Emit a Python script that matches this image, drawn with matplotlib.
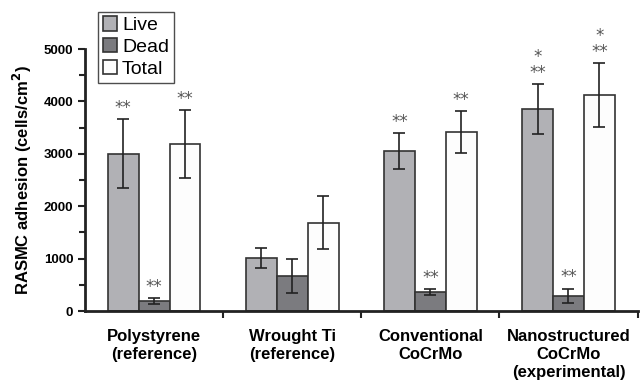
import numpy as np
import matplotlib
matplotlib.use('Agg')
import matplotlib.pyplot as plt
from matplotlib.ticker import MultipleLocator

plt.rcParams['font.family'] = ['Liberation Sans', 'DejaVu Sans']

# 표면별 RASMC 부착 세포 수
groups = ['Polystyrene\n(reference)', 'Wrought Ti\n(reference)',
          'Conventional\nCoCrMo', 'Nanostructured\nCoCrMo\n(experimental)']
live = [3000, 1010, 3050, 3850]
live_err = [660, 190, 340, 480]
dead = [190, 670, 370, 290]
dead_err = [60, 330, 55, 140]
total = [3180, 1690, 3420, 4130]
total_err = [650, 510, 400, 610]
# 유의성 표시
live_sig = ['**', '', '**', '*\n**']
dead_sig = ['**', '', '**', '**']
total_sig = ['**', '', '**', '*\n**']

fig = plt.figure(figsize=(6.41, 3.86), dpi=100)
ax = fig.add_axes([0.1326, 0.194, 0.862, 0.679])

x = np.arange(len(groups))
w = 0.224
edge = '#333333'
series = [(live, live_err, live_sig, '#b1b1b5', 'Live', -w),
          (dead, dead_err, dead_sig, '#7b7b7f', 'Dead', 0),
          (total, total_err, total_sig, '#fdfdfd', 'Total', w)]

for vals, errs, sigs, col, lab, off in series:
    ax.bar(x + off, vals, w, color=col, edgecolor=edge, linewidth=1.2, label=lab,
           yerr=errs, error_kw=dict(ecolor='#222222', elinewidth=1.2, capsize=4, capthick=1.2))
    for xi, v, e, s in zip(x, vals, errs, sigs):
        if s:
            ax.text(xi + off, v + e + 40, s, ha='center', va='bottom', fontsize=12,
                    color='#555555', linespacing=0.85, family='DejaVu Sans')

ax.set_xlim(-0.5, 3.5)
ax.set_ylim(0, 5000)
ax.yaxis.set_major_locator(MultipleLocator(1000))
ax.yaxis.set_minor_locator(MultipleLocator(500))
ax.set_xticks(x)
ax.set_xticklabels(groups, fontsize=12, fontweight='bold', linespacing=1.25)
ax.set_xticks(np.arange(0.5, 4, 1), minor=True)
ax.tick_params(axis='x', which='major', length=0, pad=13)
ax.tick_params(axis='x', which='minor', length=5, width=1.5, direction='out', color='#222222')
ax.tick_params(axis='y', which='both', direction='out', width=1.5, color='#222222')
ax.tick_params(axis='y', which='major', length=5, labelsize=9.5)
ax.tick_params(axis='y', which='minor', length=4)
for lbl in ax.get_yticklabels():
    lbl.set_fontweight('bold')

ax.spines['top'].set_visible(False)
ax.spines['right'].set_visible(False)
ax.spines['left'].set_linewidth(2)
ax.spines['bottom'].set_linewidth(2)
ax.spines['left'].set_color('#222222')
ax.spines['bottom'].set_color('#222222')

ax.set_ylabel('RASMC adhesion (cells/cm$^\\mathbf{2}$)', fontsize=12, fontweight='bold', labelpad=7)

leg = ax.legend(loc='upper left', bbox_to_anchor=(0.023, 1.143), fontsize=14,
                frameon=True, fancybox=False, edgecolor='#222222', handlelength=0.75,
                handleheight=0.75, handletextpad=0.25, borderpad=0.25, labelspacing=0.2,
                borderaxespad=0)
leg.get_frame().set_linewidth(1.0)

fig.savefig('out.png', dpi=100)
